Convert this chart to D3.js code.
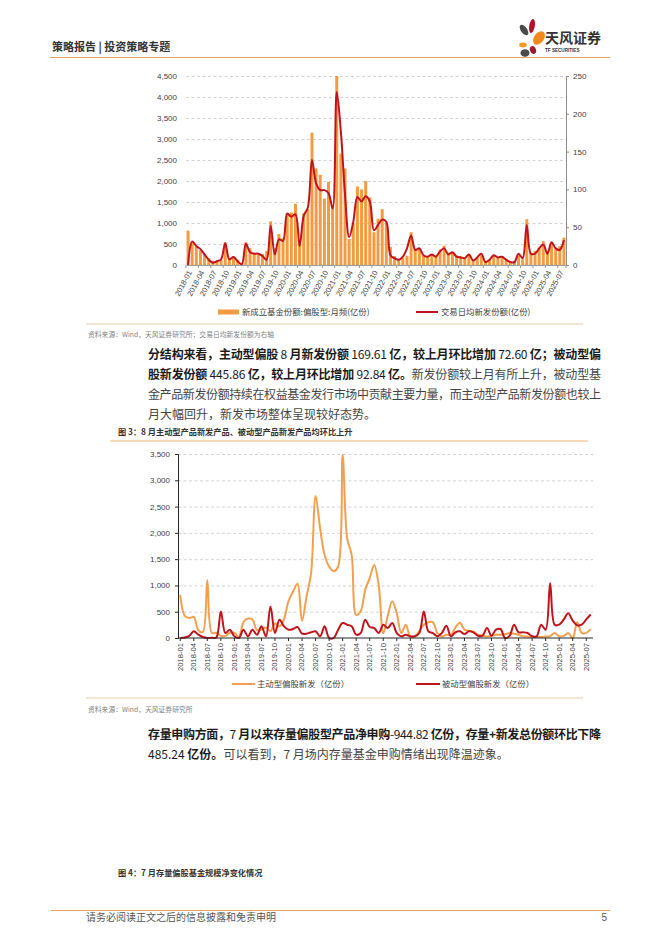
<!DOCTYPE html>
<html><head><meta charset="utf-8">
<script src="https://cdn.jsdelivr.net/npm/d3@7/dist/d3.min.js"></script>
<style>body{margin:0;background:#fff}svg{display:block}</style>
</head><body><svg id="page" width="662" height="936"></svg>
<script>
// ---------- data ----------
const months = [];
for (let y = 2018; y <= 2025; y++) for (let m = 1; m <= 12; m++) { if (y === 2025 && m > 8) break; months.push(y + "-" + String(m).padStart(2, "0")); }
const tickMonths = months.filter((d, i) => i % 3 === 0);

// 新成立基金份额:偏股型:月频(亿份) — left axis
const newFundShares = [820,520,430,350,260,160,100,80,110,530,170,200,
  120,50,540,400,280,240,260,330,1040,400,740,640,
  1240,1250,1460,500,1230,1330,3150,2300,2150,1580,1980,1400,
  4500,2650,2300,620,1000,1870,1800,2000,1610,780,1100,1330,
  1000,430,210,120,175,220,780,370,410,215,200,255,
  230,370,460,295,310,230,215,175,255,120,175,230,
  95,120,230,175,175,135,95,95,230,135,1090,295,
  335,415,570,335,530,375,450,650];
// 交易日均新发份额(亿份) — right axis
const dailyAvgNew = [0,31,25,21,14,7,3,5,7.5,29,7.5,10.5,
  5,1,28,17,15,15,12,7,52,14,34,32,
  68,64,67,25,65,76,139,108,99,99,95,75,
  229,176,93,37,57,90,84,91,84,46,53,60,
  57,13,9,7,11,22,39,20,22,13,11,14,
  11,18,22,14,17,11,10,9,14,6,10,15,
  4,7,13,10,11,7,4,3.5,15,9,53,15,
  15,22,27,15,30,22,20,33];
// 主动型偏股新发（亿份）
const activeNew = [820,420,380,400,150,110,1100,100,100,40,40,100,
  100,20,300,370,350,150,160,200,130,280,220,360,
  700,880,1030,330,790,1230,2700,2090,1580,1360,1270,1360,
  3480,1900,1580,440,510,920,1140,1390,1000,90,420,700,
  470,95,250,30,30,130,250,300,300,95,30,60,
  60,200,290,160,140,120,60,50,30,40,60,60,
  70,95,80,60,30,30,20,20,20,30,35,95,
  30,40,95,0,300,95,97,170];
// 被动型偏股新发（亿份）
const passiveNew = [0,10,40,127,63,19,0,5,10,506,95,158,
  32,0,158,32,158,63,222,32,601,95,348,222,
  158,171,209,82,82,108,127,32,222,0,0,158,
  285,253,222,63,95,348,209,190,95,253,190,285,
  95,32,63,32,32,95,506,127,95,32,95,234,
  32,108,127,76,127,108,44,44,190,44,158,171,
  0,40,253,108,108,95,32,32,253,158,1040,253,
  253,348,470,330,240,253,353,446];

const leftTicks1 = [0,500,1000,1500,2000,2500,3000,3500,4000,4500];
const rightTicks1 = [0,50,100,150,200,250];
const yTicks2 = [0,500,1000,1500,2000,2500,3000,3500];

const CJK = "'Noto Sans CJK SC','Noto Sans',sans-serif";
const LAT = "'Liberation Sans',Arial,sans-serif";
const ORANGE = "#F29B40", RED = "#C0141C", ORANGE2 = "#F3A04E";

const svg = d3.select("#page");
svg.append("rect").attr("width", 662).attr("height", 936).attr("fill", "#fff");

// ---------- header ----------
svg.append("text").attr("x", 52).attr("y", 51).attr("font-family", CJK).attr("font-size", 11)
  .attr("font-weight", 700).attr("fill", "#333").text("策略报告 | 投资策略专题");
svg.append("line").attr("x1", 50).attr("x2", 610).attr("y1", 57.5).attr("y2", 57.5)
  .attr("stroke", "#E3A25A").attr("stroke-width", 1.2);
// logo
const logo = svg.append("g");
[[524,30,3.2,6,-35,"#4A4A4A"],[532,26,2.8,7,10,"#B3122A"],[539,38,5,7.5,35,"#F08A1C"],
 [523,45,3.8,2.4,0,"#F39A2B"],[533,50,3,4,-20,"#9E1B32"],[525,53,4.5,3.8,0,"#4A4A4A"]]
 .forEach(p => logo.append("ellipse").attr("cx", p[0]).attr("cy", p[1]).attr("rx", p[2]).attr("ry", p[3])
   .attr("transform", `rotate(${p[4]},${p[0]},${p[1]})`).attr("fill", p[5]));
svg.append("text").attr("x", 545).attr("y", 43).attr("font-family", CJK).attr("font-size", 14)
  .attr("font-weight", 700).attr("fill", "#333").text("天风证券");
svg.append("text").attr("x", 545).attr("y", 52).attr("font-family", LAT).attr("font-size", 4.6)
  .attr("font-weight", 700).attr("fill", "#333").text("TF SECURITIES");

// ---------- chart 1 ----------
const c1 = svg.append("g");
const x1 = d3.scaleBand().domain(months).range([186, 566]).paddingInner(0.28).paddingOuter(0.14);
const x1s = d3.scaleBand().domain(months).range([186, 566]);
const yL = d3.scaleLinear().domain([0, 4500]).range([265, 76]);
const yR = d3.scaleLinear().domain([0, 250]).range([265, 76]);

c1.append("g").selectAll("line").data(leftTicks1.slice(1)).join("line")
  .attr("x1", 186).attr("x2", 566).attr("y1", d => yL(d) + 0.5).attr("y2", d => yL(d) + 0.5)
  .attr("stroke", "#C8C8C8").attr("stroke-width", 0.8).attr("stroke-dasharray", "3,2.5");
c1.append("g").selectAll("rect").data(newFundShares).join("rect")
  .attr("x", (d, i) => x1(months[i])).attr("width", x1.bandwidth())
  .attr("y", d => yL(d)).attr("height", d => yL(0) - yL(d)).attr("fill", ORANGE);
c1.append("path").datum(dailyAvgNew)
  .attr("d", d3.line().x((d, i) => x1s(months[i]) + x1s.bandwidth() / 2).y(d => yR(d)).curve(d3.curveCatmullRom.alpha(0.5)))
  .attr("fill", "none").attr("stroke", RED).attr("stroke-width", 2);
// axes
const ax1 = c1.append("g").attr("transform", "translate(0,265)")
  .call(d3.axisBottom(x1s).tickValues([]).tickSize(0));
ax1.select(".domain").attr("stroke", "#9A9A9A");
c1.append("g").selectAll("line").data(tickMonths.concat(["end"])).join("line")
  .attr("x1", d => d === "end" ? 566 : x1s(d)).attr("x2", d => d === "end" ? 566 : x1s(d))
  .attr("y1", 265).attr("y2", 268).attr("stroke", "#9A9A9A");
c1.append("g").selectAll("text").data(tickMonths).join("text")
  .attr("transform", d => `translate(${x1s(d) + x1s.bandwidth() / 2 + 2},${271}) rotate(-62)`)
  .attr("text-anchor", "end").attr("dy", "0.32em").attr("font-family", LAT).attr("font-size", 7.6)
  .attr("fill", "#404040").text(d => d);
const axL = c1.append("g").attr("transform", "translate(186,0)")
  .call(d3.axisLeft(yL).tickValues(leftTicks1).tickSize(0).tickPadding(9).tickFormat(d3.format(",")));
axL.select(".domain").remove();
axL.selectAll("text").attr("font-family", LAT).attr("font-size", 8).attr("fill", "#404040");
const axR = c1.append("g").attr("transform", "translate(566,0)")
  .call(d3.axisRight(yR).tickValues(rightTicks1).tickSize(3).tickPadding(4));
axR.select(".domain").attr("stroke", "#8C8C8C");
axR.selectAll("line").attr("stroke", "#8C8C8C");
axR.selectAll("text").attr("font-family", LAT).attr("font-size", 8).attr("fill", "#404040");
// legend
c1.append("rect").attr("x", 218).attr("y", 309.5).attr("width", 21).attr("height", 5).attr("fill", ORANGE);
c1.append("text").attr("x", 242).attr("y", 315).attr("font-family", CJK).attr("font-size", 8.4)
  .attr("fill", "#404040").text("新成立基金份额:偏股型:月频(亿份)");
c1.append("line").attr("x1", 416).attr("x2", 438).attr("y1", 312).attr("y2", 312).attr("stroke", RED).attr("stroke-width", 2);
c1.append("text").attr("x", 441).attr("y", 315).attr("font-family", CJK).attr("font-size", 8.4)
  .attr("fill", "#404040").text("交易日均新发份额(亿份)");
svg.append("line").attr("x1", 86).attr("x2", 583).attr("y1", 324).attr("y2", 324).attr("stroke", "#E6CFA8").attr("stroke-width", 1);
svg.append("text").attr("x", 88).attr("y", 337).attr("font-family", CJK).attr("font-size", 6.8)
  .attr("fill", "#7F7F7F").text("资料来源：Wind，天风证券研究所；交易日均新发份额为右轴");

// ---------- paragraph helper ----------
// segs: [text, bold]; digits inside bold segments are drawn in regular weight like the source
function para(y, segs, justify) {
  const t = svg.append("text").attr("x", 148).attr("y", y).attr("font-family", CJK).attr("font-size", 12);
  if (justify) t.attr("textLength", 453).attr("lengthAdjust", "spacing");
  segs.forEach(s => {
    const parts = s[1] ? s[0].split(/([-+]?[0-9][0-9.]*)/) : [s[0]];
    parts.forEach((p, k) => {
      if (!p) return;
      const isNum = s[1] && k % 2 === 1;
      t.append("tspan").attr("font-weight", s[1] && !isNum ? 700 : 400)
        .attr("fill", s[1] ? "#1a1a1a" : "#444").text(p);
    });
  });
}
para(359, [["分结构来看，主动型偏股 8 月新发份额 169.61 亿，较上月环比增加 72.60 亿；被动型偏", 1]], true);
para(379, [["股新发份额 445.86 亿，较上月环比增加 92.84 亿。", 1], ["新发份额较上月有所上升，被动型基", 0]], true);
para(399, [["金产品新发份额持续在权益基金发行市场中贡献主要力量，而主动型产品新发份额也较上", 0]], true);
para(419, [["月大幅回升，新发市场整体呈现较好态势。", 0]], false);

// ---------- chart 2 ----------
svg.append("text").attr("x", 118).attr("y", 435).attr("font-family", CJK).attr("font-size", 8.2)
  .attr("font-weight", 700).attr("fill", "#333").text("图 3：8 月主动型产品新发产品、被动型产品新发产品均环比上升");
svg.append("line").attr("x1", 110).attr("x2", 588).attr("y1", 441).attr("y2", 441).attr("stroke", "#EDB470").attr("stroke-width", 1.2);

const c2 = svg.append("g");
const x2 = d3.scaleBand().domain(months).range([178, 593]);
const xc = d => x2(d) + x2.bandwidth() / 2;
const y2 = d3.scaleLinear().domain([0, 3500]).range([638, 454]);
c2.append("g").selectAll("line").data(yTicks2.slice(1)).join("line")
  .attr("x1", 178).attr("x2", 593).attr("y1", d => y2(d) + 0.5).attr("y2", d => y2(d) + 0.5)
  .attr("stroke", "#C8C8C8").attr("stroke-width", 0.8).attr("stroke-dasharray", "3,2.5");
const line2 = d3.line().x((d, i) => xc(months[i])).y(d => y2(d)).curve(d3.curveCatmullRom.alpha(0.5));
c2.append("path").datum(activeNew).attr("d", line2).attr("fill", "none").attr("stroke", ORANGE2).attr("stroke-width", 2);
c2.append("path").datum(passiveNew).attr("d", line2).attr("fill", "none").attr("stroke", RED).attr("stroke-width", 2);
const ay2 = c2.append("g").attr("transform", "translate(178,0)")
  .call(d3.axisLeft(y2).tickValues(yTicks2).tickSize(3).tickPadding(5).tickFormat(d3.format(",")));
ay2.select(".domain").attr("stroke", "#262626");
ay2.selectAll("line").attr("stroke", "#262626");
ay2.selectAll("text").attr("font-family", LAT).attr("font-size", 8).attr("fill", "#404040");
c2.append("line").attr("x1", 178).attr("x2", 593).attr("y1", 638).attr("y2", 638).attr("stroke", "#262626");
c2.append("g").selectAll("line").data(tickMonths).join("line")
  .attr("x1", d => xc(d)).attr("x2", d => xc(d)).attr("y1", 638).attr("y2", 641).attr("stroke", "#262626");
c2.append("g").selectAll("text").data(tickMonths).join("text")
  .attr("transform", d => `translate(${xc(d)},${643}) rotate(-90)`)
  .attr("text-anchor", "end").attr("dy", "0.32em").attr("font-family", LAT).attr("font-size", 7.6)
  .attr("fill", "#404040").text(d => d);
// legend
c2.append("line").attr("x1", 232).attr("x2", 255).attr("y1", 684).attr("y2", 684).attr("stroke", ORANGE2).attr("stroke-width", 2);
c2.append("text").attr("x", 257).attr("y", 687).attr("font-family", CJK).attr("font-size", 8.4)
  .attr("fill", "#404040").text("主动型偏股新发（亿份）");
c2.append("line").attr("x1", 416).attr("x2", 440).attr("y1", 684).attr("y2", 684).attr("stroke", RED).attr("stroke-width", 2);
c2.append("text").attr("x", 442).attr("y", 687).attr("font-family", CJK).attr("font-size", 8.4)
  .attr("fill", "#404040").text("被动型偏股新发（亿份）");
svg.append("line").attr("x1", 86).attr("x2", 583).attr("y1", 698).attr("y2", 698).attr("stroke", "#E6CFA8").attr("stroke-width", 1);
svg.append("text").attr("x", 88).attr("y", 712).attr("font-family", CJK).attr("font-size", 6.8)
  .attr("fill", "#7F7F7F").text("资料来源：Wind，天风证券研究所");

// ---------- paragraph 2 ----------
para(739, [["存量申购方面，7 月以来存量偏股型产品净申购-944.82 亿份，存量+新发总份额环比下降", 1]], true);
para(759, [["485.24 亿份。", 1], ["可以看到，7 月场内存量基金申购情绪出现降温迹象。", 0]], false);

svg.append("text").attr("x", 118).attr("y", 876).attr("font-family", CJK).attr("font-size", 8.2)
  .attr("font-weight", 700).attr("fill", "#333").text("图 4：7 月存量偏股基金规模净变化情况");

// ---------- footer ----------
svg.append("line").attr("x1", 51).attr("x2", 610).attr("y1", 910.5).attr("y2", 910.5).attr("stroke", "#E3A25A").attr("stroke-width", 1.2);
svg.append("text").attr("x", 86).attr("y", 921).attr("font-family", CJK).attr("font-size", 10)
  .attr("fill", "#555").text("请务必阅读正文之后的信息披露和免责申明");
svg.append("text").attr("x", 607).attr("y", 921).attr("text-anchor", "end").attr("font-family", LAT).attr("font-size", 10)
  .attr("fill", "#555").text("5");
</script></body></html>
